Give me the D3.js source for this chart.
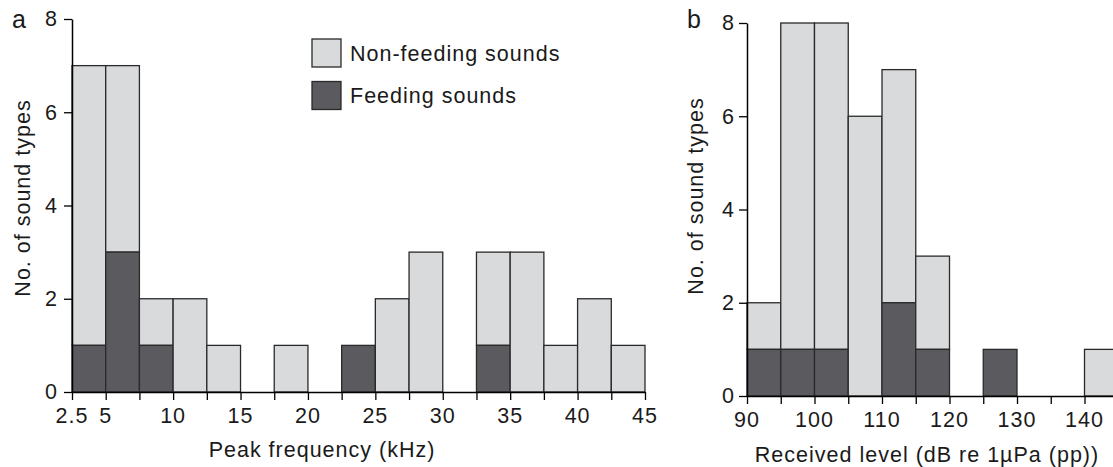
<!DOCTYPE html>
<html><head><meta charset="utf-8">
<script src="https://cdn.jsdelivr.net/npm/d3@7"></script>
<style>body{margin:0;background:#fff}svg{display:block;font-family:"Liberation Sans",Arial,sans-serif}
text{letter-spacing:1px}</style>
</head><body><svg id="c" width="1113" height="467"></svg>
<script>
// Panel a: peak frequency (kHz), bins of 2.5
const aBinStarts = [2.5,5,7.5,10,12.5,15,17.5,20,22.5,25,27.5,30,32.5,35,37.5,40,42.5];
const aFeeding    = [1,3,1,0,0,0,0,0,1,0,0,0,1,0,0,0,0];
const aNonFeeding = [6,4,1,2,1,0,1,0,0,2,3,0,2,3,1,2,1];
const aTickLabels = ["2.5","5","10","15","20","25","30","35","40","45"];
const aTickValues = [2.5,5,10,15,20,25,30,35,40,45];
// Panel b: received level, bins of 5 dB
const bBinStarts = [90,95,100,105,110,115,120,125,130,135,140];
const bFeeding    = [1,1,1,0,2,1,0,1,0,0,0];
const bNonFeeding = [1,7,7,6,5,2,0,0,0,0,1];
const bTickLabels = ["90","100","110","120","130","140"];
const bTickValues = [90,100,110,120,130,140];
const yTicks = [0,2,4,6,8];
const seriesNames = ["Non-feeding sounds","Feeding sounds"];

const LIGHT="#d9dadc", DARK="#5b5a5f", EDGE="#2a2a2a", TXT="#1a1a1a";
const svg=d3.select("#c");
const FS=21.5;

function panel(cfg){
  const g=svg.append("g");
  const x=d3.scaleLinear().domain(cfg.xDomain).range(cfg.xRange);
  const y=d3.scaleLinear().domain([0,8]).range(cfg.yRange);
  const w=cfg.binW;
  cfg.starts.forEach((s,i)=>{
    const f=cfg.feed[i], n=cfg.non[i];
    if(n>0) g.append("rect").attr("x",x(s)).attr("width",x(s+w)-x(s))
      .attr("y",y(f+n)).attr("height",y(f)-y(f+n))
      .attr("fill",LIGHT).attr("stroke",EDGE).attr("stroke-width",1.3);
    if(f>0) g.append("rect").attr("x",x(s)).attr("width",x(s+w)-x(s))
      .attr("y",y(f)).attr("height",y(0)-y(f))
      .attr("fill",DARK).attr("stroke",EDGE).attr("stroke-width",1.3);
  });
  const edges=cfg.starts.concat([cfg.starts[cfg.starts.length-1]+w]);
  const xa=g.append("g").attr("transform",`translate(0,${y(0)})`)
    .call(d3.axisBottom(x).tickValues(edges).tickSize(8).tickFormat("").tickSizeOuter(0));
  xa.select(".domain").attr("stroke","#000").attr("stroke-width",1.5);
  xa.selectAll(".tick line").attr("stroke","#000").attr("stroke-width",1.3);
  cfg.xTickValues.forEach((v,i)=>{
    g.append("text").attr("x",x(v)).attr("y",y(0)+cfg.xLabOff).attr("text-anchor","middle")
      .attr("font-size",FS).attr("fill",TXT).text(cfg.xTickLabels[i]);
  });
  const ya=g.append("g").attr("transform",`translate(${x(cfg.xDomain[0])},0)`)
    .call(d3.axisLeft(y).tickValues(yTicks).tickSize(8).tickSizeOuter(0).tickPadding(cfg.yPad));
  ya.select(".domain").attr("stroke","#000").attr("stroke-width",1.5);
  ya.selectAll(".tick line").attr("stroke","#000").attr("stroke-width",1.3);
  ya.selectAll(".tick text").attr("font-size",FS).attr("font-family","Liberation Sans, Arial, sans-serif").attr("fill",TXT);
  g.append("text").attr("x",cfg.xTitleX).attr("y",y(0)+cfg.xTitleOff).attr("text-anchor","middle")
    .attr("font-size",FS).attr("fill",TXT).text(cfg.xTitle);
  g.append("text").attr("transform",`translate(${cfg.yTitleX},${cfg.yTitleY}) rotate(-90)`)
    .attr("text-anchor","middle").attr("font-size",FS).attr("fill",TXT).text("No. of sound types");
  g.append("text").attr("x",cfg.labelX).attr("y",cfg.labelY).attr("font-size",25).attr("fill",TXT)
    .style("letter-spacing","0px").text(cfg.label);
  return {x,y,g};
}

panel({starts:aBinStarts,feed:aFeeding,non:aNonFeeding,binW:2.5,
  xDomain:[2.5,45],xRange:[72,645],yRange:[392,19],yPad:6,xLabOff:31,xTitleOff:65,
  xTickValues:aTickValues,xTickLabels:aTickLabels,
  xTitle:"Peak frequency (kHz)",xTitleX:322,yTitleX:30,yTitleY:198,label:"a",labelX:12,labelY:28});
panel({starts:bBinStarts,feed:bFeeding,non:bNonFeeding,binW:5,
  xDomain:[90,145],xRange:[747,747+55*6.75],yRange:[396,23],yPad:4,xLabOff:31,xTitleOff:66,
  xTickValues:bTickValues,xTickLabels:bTickLabels,
  xTitle:"Received level (dB re 1µPa (pp))",xTitleX:927,yTitleX:703,yTitleY:196,label:"b",labelX:687,labelY:28});

const leg=svg.append("g");
[LIGHT,DARK].forEach((c,i)=>{
  leg.append("rect").attr("x",312).attr("y",39+i*42.5).attr("width",29).attr("height",28)
    .attr("fill",c).attr("stroke",EDGE).attr("stroke-width",1.3);
  leg.append("text").attr("x",350).attr("y",53+i*42.5).attr("dy","0.35em")
    .attr("font-size",FS).attr("fill",TXT).text(seriesNames[i]);
});
</script></body></html>
